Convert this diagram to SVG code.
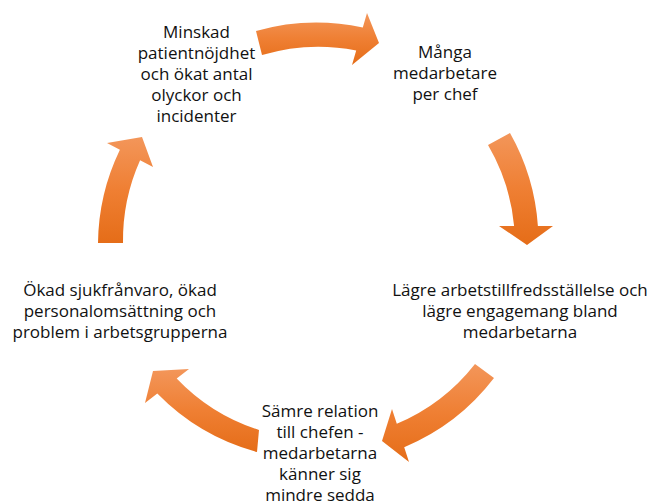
<svg xmlns="http://www.w3.org/2000/svg" width="652" height="503" viewBox="0 0 652 503">
  <defs>
    <linearGradient id="og" x1="0" y1="0" x2="0" y2="1">
      <stop offset="0" stop-color="#F3965A"/>
      <stop offset="0.5" stop-color="#EF7F33"/>
      <stop offset="1" stop-color="#E56D18"/>
    </linearGradient>
    <style>
      .lbl { font-family: "Open Sans", "Liberation Sans", sans-serif; font-size: 17px; fill: #111111; text-anchor: middle; }
      .arr { fill: url(#og); stroke: none; }
    </style>
  </defs>
  <rect width="652" height="503" fill="#FFFFFF"/>
  <g id="connectors">
    <path class="arr" d="M256,31 A220,220 0 0 1 362.8,27.6 L367,13 L379,43 L352,65 L356.2,50.4 A196,196 0 0 0 262,55 Z"/>
    <path class="arr" d="M510,133 A220,220 0 0 1 537.9,226 L553,226 L527,245 L499,226 L514.1,226 A196,196 0 0 0 488,145 Z"/>
    <path class="arr" d="M494,378 A220,220 0 0 1 404.2,447.2 L409,462 L382,441 L392,409 L396.8,423.8 A196,196 0 0 0 475,364 Z"/>
    <path class="arr" d="M257,452 A220,220 0 0 1 157.3,393.5 L145,403 L153,371 L189,369 L176.7,378.5 A196,196 0 0 0 259,430 Z"/>
    <path class="arr" d="M98,243 A220,220 0 0 1 119.9,149.7 L107,143 L142,137 L153,167 L140.1,160.3 A196,196 0 0 0 123,243 Z"/>
  </g>
  <g id="node-minskad">
    <text class="lbl" x="196.5" y="37.5">Minskad</text>
    <text class="lbl" x="196.5" y="58.5">patientnöjdhet</text>
    <text class="lbl" x="196.5" y="79.5">och ökat antal</text>
    <text class="lbl" x="196.5" y="100.5">olyckor och</text>
    <text class="lbl" x="196.5" y="121.5">incidenter</text>
  </g>
  <g id="node-manga">
    <text class="lbl" x="445" y="57.5">Många</text>
    <text class="lbl" x="445" y="78.5">medarbetare</text>
    <text class="lbl" x="445" y="99.5">per chef</text>
  </g>
  <g id="node-lagre">
    <text class="lbl" x="520" y="296">Lägre arbetstillfredsställelse och</text>
    <text class="lbl" x="520" y="317">lägre engagemang bland</text>
    <text class="lbl" x="520" y="338">medarbetarna</text>
  </g>
  <g id="node-samre">
    <text class="lbl" x="320" y="416.5">Sämre relation</text>
    <text class="lbl" x="320" y="437.5">till chefen -</text>
    <text class="lbl" x="320" y="458.5">medarbetarna</text>
    <text class="lbl" x="320" y="479.5">känner sig</text>
    <text class="lbl" x="320" y="500.5">mindre sedda</text>
  </g>
  <g id="node-okad">
    <text class="lbl" x="120" y="295.5">Ökad sjukfrånvaro, ökad</text>
    <text class="lbl" x="120" y="316.5">personalomsättning och</text>
    <text class="lbl" x="120" y="337.5">problem i arbetsgrupperna</text>
  </g>
</svg>
